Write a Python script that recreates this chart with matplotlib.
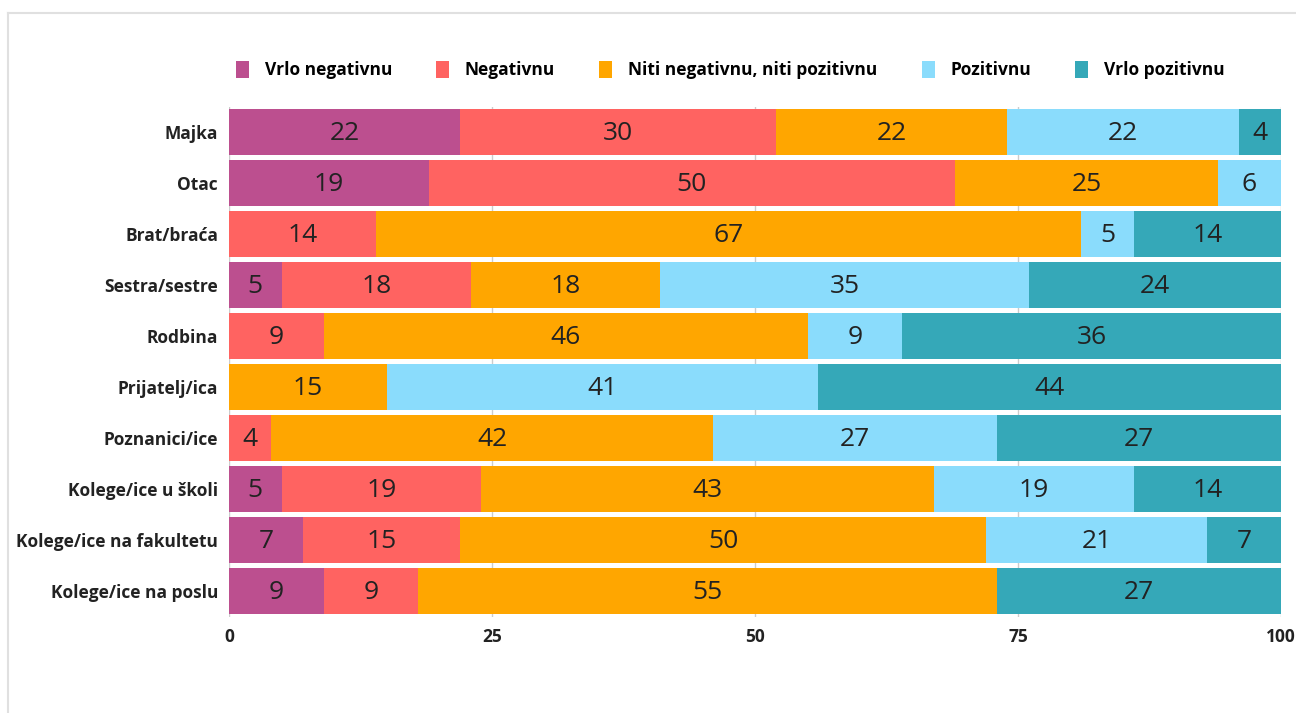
import matplotlib.pyplot as plt
from matplotlib.patches import Patch
from matplotlib.lines import Line2D
import numpy as np

plt.rcParams['font.family'] = ['Open Sans', 'DejaVu Sans']

categories = ['Majka', 'Otac', 'Brat/braća', 'Sestra/sestre', 'Rodbina', 'Prijatelj/ica',
              'Poznanici/ice', 'Kolege/ice u školi', 'Kolege/ice na fakultetu', 'Kolege/ice na poslu']
series = ['Vrlo negativnu', 'Negativnu', 'Niti negativnu, niti pozitivnu', 'Pozitivnu', 'Vrlo pozitivnu']
vrlo_negativnu = [22, 19, 0, 5, 0, 0, 0, 5, 7, 9]
negativnu = [30, 50, 14, 18, 9, 0, 4, 19, 15, 9]
niti = [22, 25, 67, 18, 46, 15, 42, 43, 50, 55]
pozitivnu = [22, 6, 5, 35, 9, 41, 27, 19, 21, 0]
vrlo_pozitivnu = [4, 0, 14, 24, 36, 44, 27, 14, 7, 27]
colors = ['#bc4f8f', '#ff6361', '#ffa600', '#8adcfc', '#35a8b8']
xticks = [0, 25, 50, 75, 100]

data = [vrlo_negativnu, negativnu, niti, pozitivnu, vrlo_pozitivnu]

fig = plt.figure(figsize=(12.96, 7.13), dpi=100)
ax = fig.add_axes([229 / 1296, 1 - 616.5 / 713, 1052 / 1296, 510 / 713])

y = np.arange(len(categories))
left = np.zeros(len(categories))
for vals, col, name in zip(data, colors, series):
    vals = np.array(vals, dtype=float)
    ax.barh(y, vals, left=left, height=0.9, color=col, label=name, zorder=2)
    for yi, v, l in zip(y, vals, left):
        if v > 0:
            ax.text(l + v / 2, yi + 0.02, str(int(v)), ha='center', va='center',
                    fontsize=19, color='#222222', zorder=3)
    left += vals

ax.set_xlim(0, 100)
ax.set_ylim(len(categories) - 0.5, -0.5)
ax.set_yticks(y)
ax.set_yticklabels(categories, fontsize=12.5, fontweight='bold', color='#222222')
ax.set_xticks(xticks)
ax.set_xticklabels([str(t) for t in xticks], fontsize=12.5, fontweight='bold', color='#222222')
ax.tick_params(length=0)
ax.tick_params(axis='y', pad=8)
ax.tick_params(axis='x', pad=8)
ax.xaxis.grid(True, color='#cccccc', linewidth=1, zorder=0)
ax.set_axisbelow(True)
for s in ax.spines.values():
    s.set_visible(False)

handles = [Patch(facecolor=c, edgecolor='none') for c in colors]
fig.legend(handles, series, loc='center left', bbox_to_anchor=(236 / 1296, 1 - 70 / 713), ncol=5,
           frameon=False, prop={'weight': 'bold', 'size': 12.5}, handlelength=0.75, handleheight=1.1,
           columnspacing=2.55, handletextpad=0.9, borderpad=0, borderaxespad=0)

# light outer frame
fig.add_artist(Line2D([8 / 1296, 1], [1 - 13 / 713, 1 - 13 / 713], color='#e0e0e0', linewidth=1.5))
fig.add_artist(Line2D([8 / 1296, 8 / 1296], [0, 1 - 13 / 713], color='#e0e0e0', linewidth=1.5))

fig.savefig('out.png', dpi=100)
